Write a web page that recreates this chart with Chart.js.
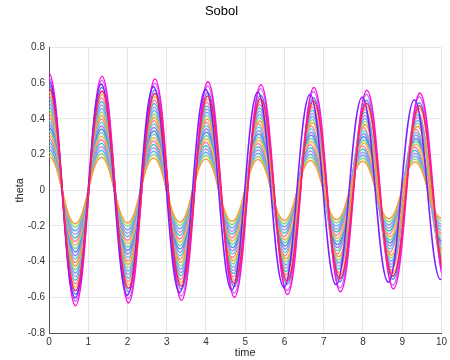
<!DOCTYPE html>
<html>
<head>
<meta charset="utf-8">
<title>Sobol</title>
<script src="https://cdn.jsdelivr.net/npm/chart.js@4.4.0/dist/chart.umd.min.js"></script>
<style>
    html, body { margin: 0; padding: 0; background: #ffffff; }
    #chartBox { width: 450px; height: 360px; }
</style>
</head>
<body>
<div id="chartBox"><canvas id="sobolChart" width="450" height="360"></canvas></div>
<script>
// Tiempos de los extremos (picos y valles)
const tG1 = [0, 0.666, 1.332, 1.998, 2.664, 3.33, 3.996, 4.662, 5.328, 5.994, 6.66, 7.326, 7.992, 8.658, 9.324, 9.99];
const tG2 = [0, 0.668, 1.336, 2.004, 2.672, 3.34, 4.008, 4.676, 5.344, 6.012, 6.68, 7.348, 8.016, 8.684, 9.352, 10.02];
const tG3 = [0, 0.671, 1.342, 2.013, 2.684, 3.355, 4.026, 4.697, 5.368, 6.039, 6.71, 7.381, 8.052, 8.723, 9.394, 10.065];
const tG4 = [0, 0.674, 1.348, 2.022, 2.696, 3.37, 4.044, 4.718, 5.392, 6.066, 6.74, 7.414, 8.088, 8.762, 9.436, 10.11];
const tFast = [0, 0.665, 1.33, 1.995, 2.66, 3.325, 3.99, 4.655, 5.32, 5.985, 6.65, 7.315, 7.98, 8.645, 9.31, 9.975, 10.64];
const tSlow = [0, 0.675, 1.35, 2.025, 2.7, 3.375, 4.05, 4.725, 5.4, 6.075, 6.75, 7.425, 8.1, 8.775, 9.45, 10.125];

// Valores de theta en cada extremo, una curva por muestra
const c19 = [0.190, -0.188, 0.185, -0.183, 0.181, -0.179, 0.176, -0.174, 0.172, -0.169, 0.167, -0.165, 0.163, -0.160, 0.158, -0.156];
const c21 = [0.210, -0.207, 0.205, -0.202, 0.200, -0.197, 0.195, -0.192, 0.190, -0.187, 0.185, -0.182, 0.180, -0.177, 0.175, -0.172];
const c23 = [0.230, -0.227, 0.224, -0.222, 0.219, -0.216, 0.213, -0.211, 0.208, -0.205, 0.202, -0.200, 0.197, -0.194, 0.191, -0.189];
const c25 = [0.250, -0.247, 0.244, -0.241, 0.238, -0.235, 0.232, -0.229, 0.226, -0.223, 0.220, -0.217, 0.214, -0.211, 0.208, -0.205];
const c27 = [0.270, -0.267, 0.264, -0.260, 0.257, -0.254, 0.251, -0.247, 0.244, -0.241, 0.238, -0.234, 0.231, -0.228, 0.225, -0.221];
const c29 = [0.290, -0.287, 0.283, -0.280, 0.276, -0.273, 0.269, -0.266, 0.262, -0.259, 0.255, -0.252, 0.248, -0.245, 0.241, -0.238];
const c31 = [0.310, -0.306, 0.303, -0.299, 0.295, -0.291, 0.288, -0.284, 0.280, -0.277, 0.273, -0.269, 0.265, -0.262, 0.258, -0.254];
const c33 = [0.330, -0.326, 0.322, -0.318, 0.314, -0.310, 0.306, -0.302, 0.298, -0.294, 0.290, -0.286, 0.282, -0.279, 0.275, -0.271];
const c35 = [0.350, -0.346, 0.342, -0.337, 0.333, -0.329, 0.325, -0.321, 0.316, -0.312, 0.308, -0.304, 0.300, -0.295, 0.291, -0.287];
const c37 = [0.370, -0.366, 0.361, -0.357, 0.352, -0.348, 0.343, -0.339, 0.334, -0.330, 0.326, -0.321, 0.317, -0.312, 0.308, -0.303];
const c39 = [0.390, -0.385, 0.381, -0.376, 0.371, -0.367, 0.362, -0.357, 0.353, -0.348, 0.343, -0.339, 0.334, -0.329, 0.324, -0.320];
const c41 = [0.410, -0.405, 0.400, -0.395, 0.390, -0.385, 0.380, -0.376, 0.371, -0.366, 0.361, -0.356, 0.351, -0.346, 0.341, -0.336];
const c43 = [0.430, -0.425, 0.420, -0.415, 0.409, -0.404, 0.399, -0.394, 0.389, -0.384, 0.378, -0.373, 0.368, -0.363, 0.358, -0.353];
const c45 = [0.450, -0.445, 0.439, -0.434, 0.428, -0.423, 0.418, -0.412, 0.407, -0.401, 0.396, -0.391, 0.385, -0.380, 0.374, -0.369];
const c47 = [0.470, -0.464, 0.459, -0.453, 0.447, -0.442, 0.436, -0.431, 0.425, -0.419, 0.414, -0.408, 0.402, -0.397, 0.391, -0.385];
const c49 = [0.490, -0.484, 0.478, -0.472, 0.466, -0.461, 0.455, -0.449, 0.443, -0.437, 0.431, -0.425, 0.419, -0.414, 0.408, -0.402];
const c51 = [0.510, -0.504, 0.498, -0.492, 0.486, -0.479, 0.473, -0.467, 0.461, -0.455, 0.449, -0.443, 0.437, -0.430, 0.424, -0.418];
const c53 = [0.530, -0.524, 0.517, -0.511, 0.505, -0.498, 0.492, -0.485, 0.479, -0.473, 0.466, -0.460, 0.454, -0.447, 0.441, -0.435];
const c55 = [0.550, -0.543, 0.537, -0.530, 0.524, -0.517, 0.510, -0.504, 0.497, -0.491, 0.484, -0.477, 0.471, -0.464, 0.458, -0.451];
const c57 = [0.570, -0.563, 0.556, -0.549, 0.543, -0.536, 0.529, -0.522, 0.515, -0.508, 0.502, -0.495, 0.488, -0.481, 0.474, -0.467];
const c59 = [0.590, -0.583, 0.576, -0.569, 0.562, -0.555, 0.548, -0.540, 0.533, -0.526, 0.519, -0.512, 0.505, -0.498, 0.491, -0.484];
const c61 = [0.610, -0.603, 0.595, -0.588, 0.581, -0.573, 0.566, -0.559, 0.551, -0.544, 0.537, -0.529, 0.522, -0.515, 0.508, -0.500, 0.493];
const c63 = [0.630, -0.622, 0.615, -0.607, 0.600, -0.592, 0.585, -0.577, 0.570, -0.562, 0.554, -0.547, 0.539, -0.532, 0.524, -0.517];
const c66 = [0.655, -0.647, 0.639, -0.631, 0.624, -0.616, 0.608, -0.600, 0.592, -0.584, 0.576, -0.569, 0.561, -0.553, 0.545, -0.537];

// Ejes
const xTicks = [0, 1, 2, 3, 4, 5, 6, 7, 8, 9, 10];
const xTickLabels = ['0', '1', '2', '3', '4', '5', '6', '7', '8', '9', '10'];
const yTicks = [-0.8, -0.6, -0.4, -0.2, 0, 0.2, 0.4, 0.6, 0.8];
const yTickLabels = ['-0.8', '-0.6', '-0.4', '-0.2', '0', '0.2', '0.4', '0.6', '0.8'];

const series = [c19, c21, c23, c25, c27, c29, c31, c33, c35, c37, c39, c41,
                c43, c45, c47, c49, c51, c53, c55, c57, c59, c61, c63, c66];
const seriesTimes = [tG1, tG1, tG1, tG1, tG1, tG1, tG2, tG2, tG2, tG2, tG2, tG2,
                     tG3, tG3, tG3, tG3, tG3, tG3, tG4, tG4, tG4, tFast, tG4, tSlow];

const lineColors = ['#ff9a3c', '#8fd96b', '#5fb0f0', '#b98cf5', '#3cc8c0', '#f57fb0',
                    '#ffb347', '#6fd1a0', '#4a90e2', '#a77cf0', '#55d4e6', '#f08a8a',
                    '#ff9a3c', '#8fd96b', '#5fb0f0', '#b98cf5', '#3cc8c0', '#f57fb0',
                    '#ffb347', '#ff1f5a', '#4a90e2', '#7b1fff', '#c86bfa', '#ff10e0'];
const topLines = [19, 21, 23];

const font = 'Liberation Sans, Arial, Helvetica, sans-serif';

document.addEventListener('DOMContentLoaded', function() {

// Tangente horizontal en el primer y ultimo extremo de cada curva
    const flatEnds = {
        id: 'flatEnds',
        beforeDatasetDraw(chart, args) {
            const line = args.meta.dataset;
            line.updateControlPoints(chart.chartArea, 'x');
            const pts = line.points;
            if (!pts.length) return;
            pts[0].cp2y = pts[0].y;
            pts[pts.length - 1].cp1y = pts[pts.length - 1].y;
        }
    };

    const datasets = series.map((vals, i) => ({
        label: 'muestra ' + (i + 1),
        data: vals.map((y, k) => ({ x: seriesTimes[i][k], y: y })),
        borderColor: lineColors[i],
        borderWidth: topLines.includes(i) ? 1.6 : 1.5,
        pointRadius: 0,
        tension: 0.4,
        fill: false,
        order: topLines.includes(i) ? 0 : 1
    }));

    const ctx = document.getElementById('sobolChart').getContext('2d');
    const sobolChart = new Chart(ctx, {
        type: 'line',
        data: { datasets: datasets },
        plugins: [flatEnds],
        options: {
            responsive: false,
            animation: false,
            layout: { padding: { left: 0, right: 7, top: 0, bottom: 0 } },
            scales: {
                x: {
                    type: 'linear',
                    min: 0,
                    max: 10,
                    afterFit: (scale) => { scale.height = 27; },
                    afterBuildTicks: (scale) => { scale.ticks = xTicks.map(v => ({ value: v })); },
                    ticks: {
                        padding: 3,
                        color: '#333333',
                        font: { family: font, size: 10 },
                        maxRotation: 0,
                        callback: (value, index) => xTickLabels[index]
                    },
                    grid: { color: '#e6e6e6', drawTicks: false },
                    border: { color: '#555555', width: 1 },
                    title: {
                        display: true,
                        text: 'time',
                        color: '#262626',
                        font: { family: font, size: 11 },
                        padding: { top: 0, bottom: 0 }
                    }
                },
                y: {
                    type: 'linear',
                    min: -0.8,
                    max: 0.8,
                    afterFit: (scale) => { scale.width = 49; },
                    afterBuildTicks: (scale) => { scale.ticks = yTicks.map(v => ({ value: v })); },
                    ticks: {
                        padding: 4,
                        color: '#333333',
                        font: { family: font, size: 10 },
                        callback: (value, index) => yTickLabels[index]
                    },
                    grid: { color: '#e6e6e6', drawTicks: false },
                    border: { color: '#555555', width: 1 },
                    title: {
                        display: true,
                        text: 'theta',
                        color: '#262626',
                        font: { family: font, size: 11 },
                        padding: { top: 13, bottom: 0 }
                    }
                }
            },
            plugins: {
                legend: { display: false },
                tooltip: { enabled: false },
                title: {
                    display: true,
                    text: 'Sobol',
                    color: '#000000',
                    font: { family: font, size: 13, weight: 'normal' },
                    padding: { top: 4, bottom: 28 }
                }
            }
        }
    });
});
</script>
</body>
</html>
